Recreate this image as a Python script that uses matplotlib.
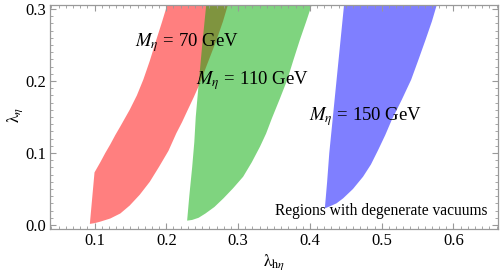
import numpy as np
import matplotlib
matplotlib.use('Agg')
import matplotlib.pyplot as plt
from matplotlib.ticker import MultipleLocator, FormatStrFormatter

plt.rcParams['font.family'] = ['Liberation Serif', 'DejaVu Serif']
plt.rcParams['mathtext.fontset'] = 'stix'

# boundaries of the regions (lambda_h_eta, lambda_eta)
red_left_x = [0.0935, 0.100, 0.108, 0.115, 0.122, 0.129, 0.136, 0.149, 0.159, 0.168,
              0.177, 0.186, 0.194, 0.2025]
red_left_y = [0.0015, 0.073, 0.087, 0.100, 0.112, 0.125, 0.137, 0.160, 0.180, 0.202,
              0.228, 0.257, 0.282, 0.310]
red_right_x = [0.0935, 0.100, 0.108, 0.122, 0.136, 0.149, 0.163, 0.177, 0.190, 0.203,
               0.214, 0.222, 0.229, 0.238, 0.246, 0.258, 0.270, 0.279, 0.287]
red_right_y = [0.0015, 0.0025, 0.0046, 0.009, 0.016, 0.027, 0.042, 0.060, 0.081, 0.103,
               0.1275, 0.143, 0.158, 0.177, 0.195, 0.226, 0.257, 0.283, 0.310]

green_left_x = [0.229, 0.232, 0.236, 0.239, 0.241, 0.245, 0.250, 0.256]
green_left_y = [0.006, 0.040, 0.080, 0.115, 0.150, 0.195, 0.250, 0.310]
green_right_x = [0.229, 0.236, 0.245, 0.2546, 0.267, 0.2796, 0.293, 0.307, 0.319, 0.3306,
                 0.339, 0.347, 0.358, 0.3685, 0.377, 0.386, 0.395, 0.404]
green_right_y = [0.006, 0.007, 0.010, 0.016, 0.025, 0.037, 0.051, 0.067, 0.087, 0.109,
                 0.127, 0.148, 0.175, 0.2017, 0.229, 0.257, 0.283, 0.310]

blue_left_x = [0.4208, 0.424, 0.427, 0.432, 0.436, 0.440, 0.444, 0.448]
blue_left_y = [0.023, 0.060, 0.100, 0.150, 0.190, 0.230, 0.270, 0.310]
blue_right_x = [0.4208, 0.428, 0.437, 0.4463, 0.460, 0.474, 0.485, 0.495, 0.505, 0.514,
                0.528, 0.541, 0.551, 0.561, 0.570, 0.578]
blue_right_y = [0.023, 0.026, 0.030, 0.037, 0.050, 0.067, 0.084, 0.104, 0.125, 0.146,
                0.174, 0.2017, 0.229, 0.257, 0.283, 0.310]

labels = [r'$M_\eta$ = 70 GeV', r'$M_\eta$ = 110 GeV', r'$M_\eta$ = 150 GeV']
label_x = [0.228, 0.320, 0.478]
label_y = [0.253, 0.201, 0.150]

fig = plt.figure(figsize=(5, 2.75), dpi=100)
ax = fig.add_axes([0.1, 0.1662, 0.896, 0.8167])

regions = [
    (red_left_x, red_left_y, red_right_x, red_right_y, (1, 0, 0, 0.5)),
    (green_left_x, green_left_y, green_right_x, green_right_y, (0, 0.667, 0, 0.5)),
    (blue_left_x, blue_left_y, blue_right_x, blue_right_y, (0, 0, 1, 0.5)),
]
for lx, ly, rx, ry, col in regions:
    xs = list(lx) + list(rx[::-1])
    ys = list(ly) + list(ry[::-1])
    ax.fill(xs, ys, color=col, lw=0)

for t, x, y in zip(labels, label_x, label_y):
    ax.text(x, y, t, ha='center', va='center', fontsize=13.5)

ax.text(0.499, 0.020, 'Regions with degenerate vacuums', ha='center', va='center', fontsize=11.2)

ax.set_xlim(0.038, 0.662)
ax.set_ylim(-0.006, 0.306)

ax.xaxis.set_major_locator(MultipleLocator(0.1))
ax.xaxis.set_minor_locator(MultipleLocator(0.01))
ax.yaxis.set_major_locator(MultipleLocator(0.1))
ax.yaxis.set_minor_locator(MultipleLocator(0.01))
ax.xaxis.set_major_formatter(FormatStrFormatter('%.1f'))
ax.yaxis.set_major_formatter(FormatStrFormatter('%.1f'))
ax.tick_params(which='both', direction='in', top=True, right=True, color='#999999', labelsize=12, pad=3)
ax.tick_params(which='major', length=4.5, width=0.8)
ax.tick_params(which='minor', length=2.2, width=0.6)
for s in ax.spines.values():
    s.set_color('#999999')
    s.set_linewidth(0.9)

ax.text(-0.077, 0.509, r'$\mathrm{\lambda}_{\eta}$', transform=ax.transAxes, rotation=90,
        ha='center', va='center', fontsize=12.5)
ax.text(0.5, -0.146, r'$\mathrm{\lambda}_{\mathrm{h}\eta}$', transform=ax.transAxes,
        ha='center', va='center', fontsize=12.5)

fig.savefig('out.png', dpi=100)
